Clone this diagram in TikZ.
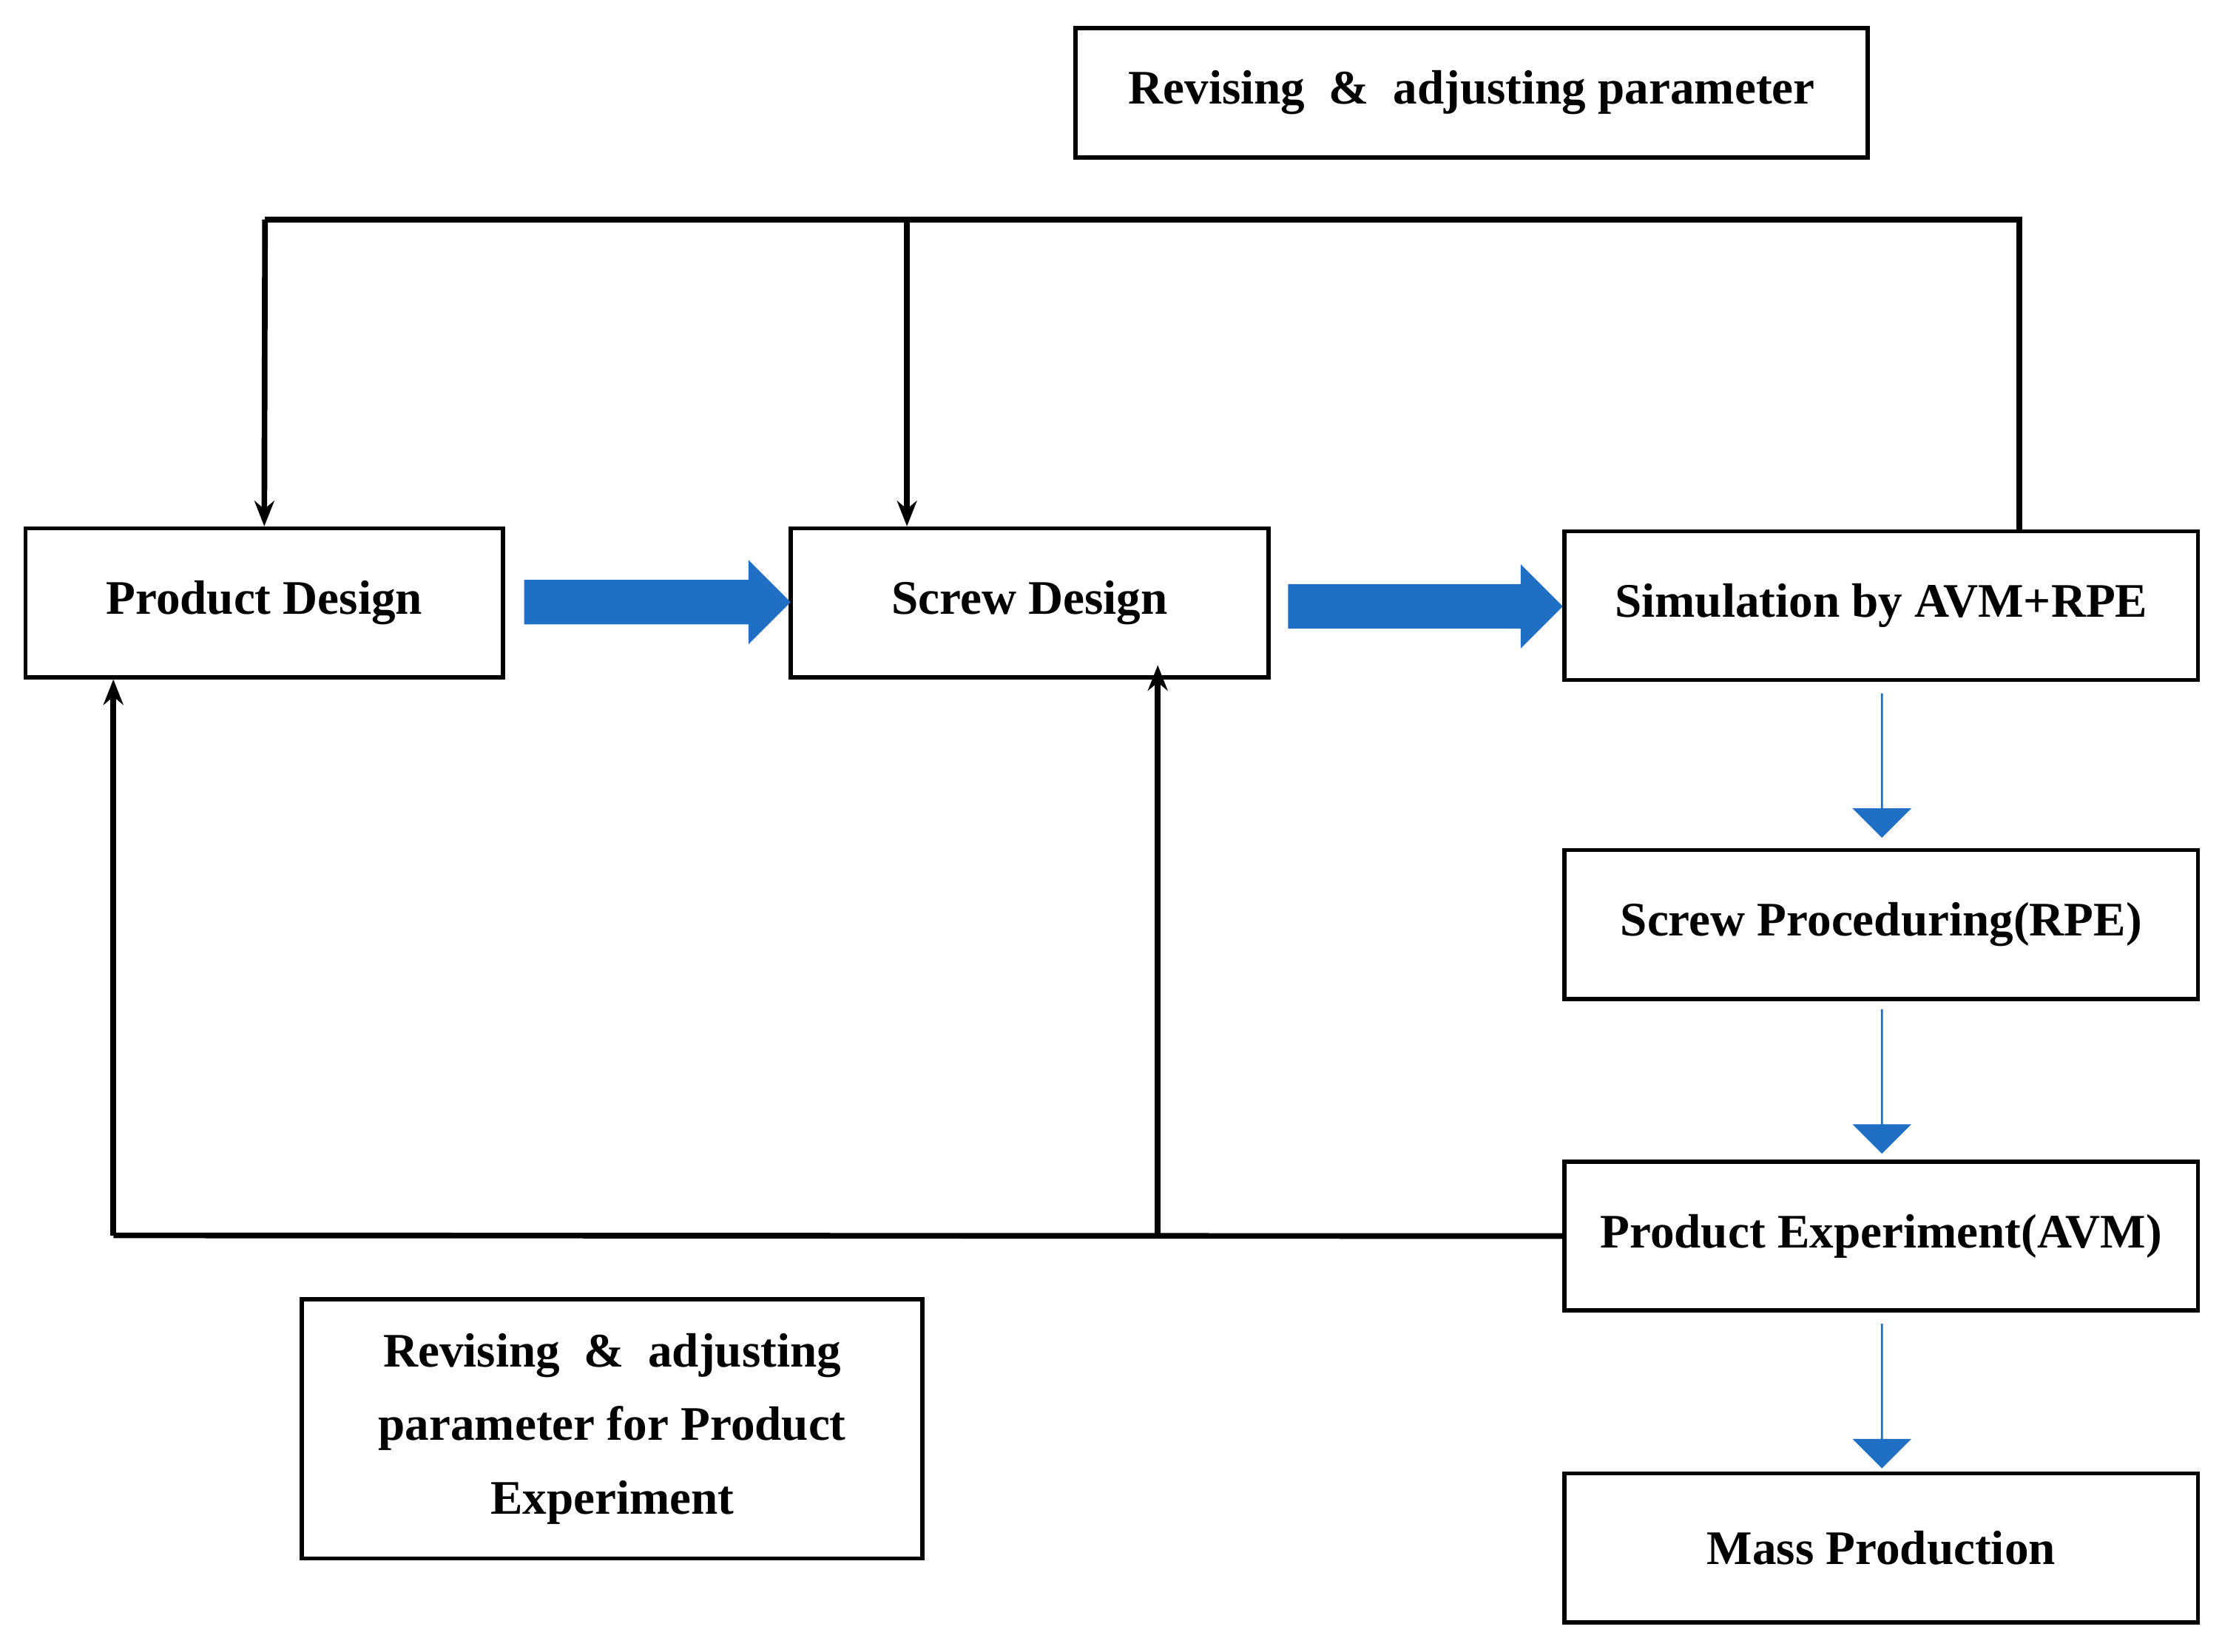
\documentclass[tikz,border=0pt]{standalone}
\usepackage{fontspec}
\setmainfont{Liberation Serif}
\usetikzlibrary{arrows.meta,shapes.arrows}
\definecolor{flowblue}{RGB}{31,111,196}
\tikzset{every picture/.style={line width=0.75pt}}
\tikzset{
  box/.style={draw,line width=1.5pt,minimum width=#1,minimum height=52.5pt,inner sep=0pt,font=\fontsize{17}{26}\selectfont\bfseries,align=center},
  link/.style={line width=2pt,-{Stealth[length=9pt,width=7pt]}},
  flow/.style={single arrow,fill=flowblue,draw=none,minimum height=#1,inner xsep=0pt,inner ysep=7.5pt,single arrow head extend=7pt,single arrow head indent=0pt},
  vflow/.style={flow=#1,shape border rotate=270,single arrow head extend=10pt}
}
\begin{document}
\begin{tikzpicture}[x=0.5pt,y=0.5pt,yscale=-1,xscale=1]
		\useasboundingbox (0,0) rectangle (1568,1166);
		
		%Shape: Rectangles
		\node (rev) [box=279.5pt,minimum height=45.5pt] at (1038.5,65.5) {Revising \ \& \ adjusting parameter};
		\node (pd) [box=168.5pt] at (186.5,425.5) {Product Design};
		\node (sd) [box=168.5pt] at (726.5,425.5) {Screw Design};
		\node (sim) [box=223.5pt] at (1327.5,427.5) {Simulation by AVM+RPE};
		\node (sp) [box=223.5pt] at (1327.5,652.5) {Screw Proceduring(RPE)};
		\node (pe) [box=223.5pt] at (1327.5,872.5) {Product Experiment(AVM)};
		\node (mp) [box=223.5pt] at (1327.5,1092.5) {Mass Production};
		\node (revp) [box=219pt,minimum height=91.5pt] at (432,1008.5) {Revising \ \& \ adjusting\\parameter for Product\\Experiment};
		
		%Block arrows
		\node (f1) [flow=94pt] at (456,425) {};
		\node (f2) [flow=97pt] at (998,428) {};
		\node (f3) [vflow=51pt] at (1328,540) {};
		\node (f4) [vflow=51pt] at (1328,763) {};
		\node (f5) [vflow=51pt] at (1328,985) {};
		
		%Feedback loops
		\coordinate (tl) at (187,155);
		\coordinate (tm) at (640,155);
		\coordinate (tr) at (1425,155);
		\coordinate (bl) at (80,872);
		\coordinate (bm) at (817,872);
		\draw [line width=2pt] (sim.north -| tr) -- (tr) -- (tl);
		\draw [link] (tl) -- (pd.north);
		\draw [link] (tm) -- (tm |- sd.north);
		\draw [line width=2pt] (pe.west) -- (bl);
		\draw [link] (bl) -- (bl |- pd.south);
		\draw [link] (bm) -- ([yshift=-5]bm |- sd.south);
		
\end{tikzpicture}
\end{document}
